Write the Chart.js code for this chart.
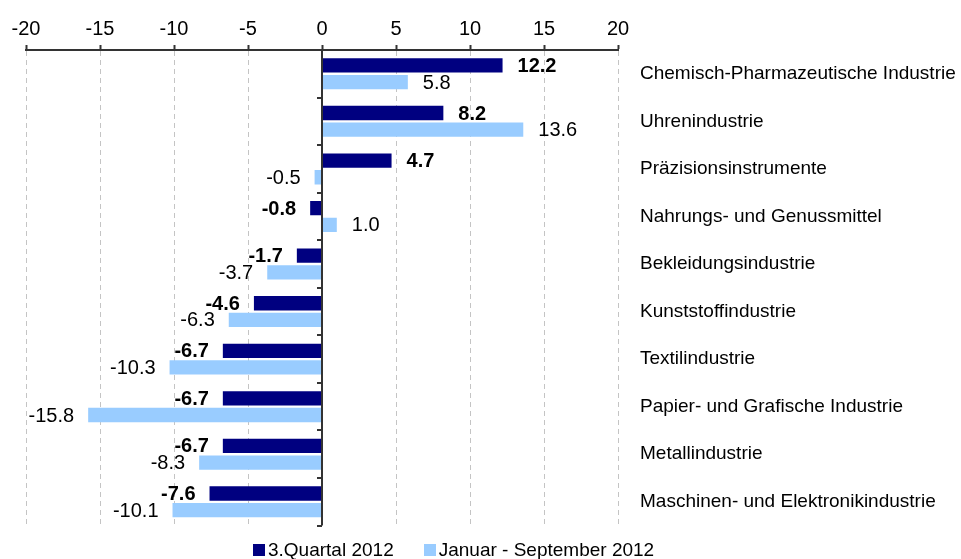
<!DOCTYPE html>
<html>
<head>
<meta charset="utf-8">
<script src="https://cdn.jsdelivr.net/npm/chart.js@4.4.1/dist/chart.umd.min.js"></script>
<style>
  body { margin: 0; background: #fff; }
  #wrap { position: relative; width: 961px; height: 559px; }
  #legende {
    position: absolute; left: 253px; top: 540px; height: 20px;
    display: flex; align-items: center;
    font-family: 'Liberation Sans', Arial, sans-serif; font-size: 19px; color: #000;
  }
  .item { display: flex; align-items: center; margin-right: 30px; }
  .box { width: 12px; height: 12px; margin-right: 3px; }
</style>
</head>
<body>
<div id="wrap">
  <canvas id="grafico"></canvas>
  <div id="legende"></div>
</div>
<script>
const branchen = [
  'Chemisch-Pharmazeutische Industrie',
  'Uhrenindustrie',
  'Präzisionsinstrumente',
  'Nahrungs- und Genussmittel',
  'Bekleidungsindustrie',
  'Kunststoffindustrie',
  'Textilindustrie',
  'Papier- und Grafische Industrie',
  'Metallindustrie',
  'Maschinen- und Elektronikindustrie'
];
const quartal3 = [12.2, 8.2, 4.7, -0.8, -1.7, -4.6, -6.7, -6.7, -6.7, -7.6];
const januarSeptember = [5.8, 13.6, -0.5, 1.0, -3.7, -6.3, -10.3, -15.8, -8.3, -10.1];
const serien = ['3.Quartal 2012', 'Januar - September 2012'];
const farben = ['#000080', '#99ccff'];

const schrift = "'Liberation Sans', Arial, sans-serif";

// Nulllinie mit kleinen Strichen zwischen den Kategorien
const nullLinie = {
  id: 'nullLinie',
  afterDatasetsDraw(chart) {
    const ctx = chart.ctx;
    const x0 = chart.scales.x.getPixelForValue(0);
    const y = chart.scales.y;
    const area = chart.chartArea;
    ctx.save();
    ctx.strokeStyle = '#333';
    ctx.lineWidth = 2;
    ctx.beginPath();
    ctx.moveTo(x0, area.top);
    ctx.lineTo(x0, area.bottom);
    for (let i = 0; i <= branchen.length; i++) {
      const yy = Math.round(y.getPixelForValue(i - 0.5));
      ctx.moveTo(x0, yy);
      ctx.lineTo(x0 - 5, yy);
    }
    ctx.stroke();
    ctx.restore();
  }
};

// Werte neben den Balken
const werte = {
  id: 'werte',
  afterDatasetsDraw(chart) {
    const ctx = chart.ctx;
    ctx.save();
    ctx.fillStyle = '#000';
    ctx.textBaseline = 'middle';
    chart.data.datasets.forEach((ds, i) => {
      const meta = chart.getDatasetMeta(i);
      ctx.font = (i === 0 ? 'bold ' : '') + '20px ' + schrift;
      meta.data.forEach((bar, j) => {
        const v = ds.data[j];
        if (v >= 0) {
          ctx.textAlign = 'left';
          ctx.fillText(v.toFixed(1), bar.x + 15, bar.y + 1);
        } else {
          ctx.textAlign = 'right';
          ctx.fillText(v.toFixed(1), bar.x - 14, bar.y + 1);
        }
      });
    });
    ctx.restore();
  }
};

const grafico = new Chart(document.getElementById('grafico'), {
  type: 'bar',
  data: {
    labels: branchen,
    datasets: [{
      label: serien[0],
      data: quartal3,
      backgroundColor: farben[0],
      categoryPercentage: 0.7,
      barPercentage: 0.86
    }, {
      label: serien[1],
      data: januarSeptember,
      backgroundColor: farben[1],
      categoryPercentage: 0.7,
      barPercentage: 0.86
    }]
  },
  options: {
    indexAxis: 'y',
    responsive: true,
    maintainAspectRatio: false,
    animation: false,
    layout: { padding: { left: 26, right: 0, top: 13, bottom: 31 } },
    plugins: {
      legend: { display: false },
      tooltip: { enabled: false }
    },
    scales: {
      x: {
        position: 'top',
        min: -20,
        max: 20,
        ticks: {
          stepSize: 5,
          padding: 4,
          color: '#000',
          font: { family: schrift, size: 20 }
        },
        grid: {
          color: '#c4c4c4',
          lineWidth: 1,
          tickColor: '#333',
          tickLength: 5,
          tickWidth: 2
        },
        border: { display: true, color: '#333', width: 2, dash: [5, 4] }
      },
      y: {
        position: 'right',
        grid: { display: false, drawTicks: false },
        border: { display: false },
        ticks: {
          padding: 22,
          color: '#000',
          font: { family: schrift, size: 19 }
        },
        afterFit(scale) {
          scale.width = 343;
        }
      }
    }
  },
  plugins: [nullLinie, werte]
});

const legende = document.getElementById('legende');
serien.forEach((name, i) => {
  const item = document.createElement('div');
  item.className = 'item';
  item.innerHTML = '<span class="box" style="background:' + farben[i] + '"></span><span>' + name + '</span>';
  legende.appendChild(item);
});
</script>
</body>
</html>
